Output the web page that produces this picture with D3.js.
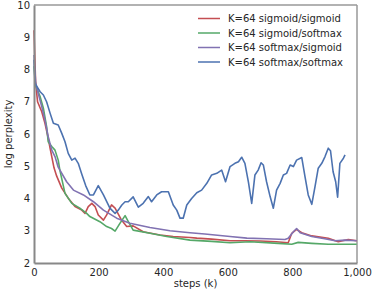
<!DOCTYPE html>
<html>
<head>
<meta charset="utf-8">
<script src="https://cdn.jsdelivr.net/npm/d3@7"></script>
<style>
  body { margin: 0; background: #fff; }
  text { font-family: "DejaVu Sans", sans-serif; fill: #262626; }
</style>
</head>
<body>
<div class="chart"></div>
<script>
// values
var redSteps = [0, 5, 11, 24, 34, 44, 50, 55, 62, 70, 86, 106, 127, 148, 158, 168, 179, 189, 199, 215, 225, 240, 251, 271, 287, 307, 338, 390, 431, 483, 504, 550, 607, 653, 700, 750, 787, 798, 813, 829, 860, 911, 942, 973, 999];
var redVals = [9.22, 7.6, 7.0, 6.69, 6.33, 5.87, 5.55, 5.3, 4.95, 4.7, 4.32, 4.01, 3.75, 3.64, 3.54, 3.75, 3.85, 3.75, 3.49, 3.33, 3.49, 3.80, 3.70, 3.33, 3.13, 3.15, 2.97, 2.87, 2.82, 2.79, 2.77, 2.74, 2.69, 2.69, 2.68, 2.66, 2.63, 2.92, 3.04, 2.94, 2.84, 2.77, 2.66, 2.73, 2.69];

var greenSteps = [0, 5, 19, 29, 39, 44, 55, 65, 75, 80, 96, 117, 142, 163, 173, 204, 225, 240, 251, 266, 282, 292, 307, 359, 411, 483, 550, 607, 669, 756, 798, 818, 860, 911, 999];
var greenVals = [8.1, 7.5, 7.16, 6.80, 6.23, 5.76, 5.61, 5.50, 5.19, 4.88, 4.16, 3.85, 3.70, 3.54, 3.44, 3.28, 3.13, 3.07, 2.99, 3.23, 3.47, 3.28, 3.02, 2.92, 2.82, 2.71, 2.67, 2.63, 2.66, 2.61, 2.58, 2.64, 2.61, 2.58, 2.58];

var purpleSteps = [0, 5, 13, 24, 34, 44, 55, 65, 75, 101, 122, 153, 184, 215, 256, 297, 359, 421, 483, 529, 607, 659, 720, 777, 787, 803, 813, 824, 860, 900, 932, 963, 999];
var purpleVals = [8.45, 7.6, 7.26, 6.85, 6.43, 5.92, 5.5, 5.30, 4.97, 4.52, 4.26, 4.11, 3.90, 3.64, 3.39, 3.23, 3.10, 3.0, 2.94, 2.90, 2.82, 2.77, 2.75, 2.73, 2.77, 2.97, 3.07, 2.94, 2.82, 2.75, 2.69, 2.71, 2.69];

var blueSteps = [0, 3, 19, 29, 39, 50, 60, 75, 86, 96, 106, 117, 127, 137, 148, 160, 173, 184, 199, 215, 235, 251, 261, 272, 282, 292, 307, 323, 338, 354, 364, 380, 395, 416, 431, 442, 452, 462, 473, 488, 504, 519, 535, 550, 566, 581, 593, 607, 622, 633, 643, 653, 664, 674, 684, 694, 703, 710, 720, 731, 741, 751, 762, 772, 782, 793, 803, 813, 829, 839, 849, 860, 870, 880, 891, 901, 911, 918, 926, 934, 940, 947, 958, 963];
var blueVals = [8.3, 7.57, 7.31, 7.21, 7.0, 6.64, 6.33, 6.28, 6.02, 5.76, 5.40, 5.19, 5.25, 5.09, 4.75, 4.4, 4.11, 4.11, 4.40, 4.11, 3.70, 3.54, 3.64, 3.8, 3.90, 3.90, 4.05, 3.73, 3.85, 4.06, 3.90, 4.11, 4.21, 4.21, 3.80, 3.64, 3.39, 3.39, 3.80, 4.0, 4.18, 4.26, 4.47, 4.73, 4.78, 4.88, 4.52, 4.99, 5.09, 5.14, 5.28, 5.09, 4.5, 3.85, 4.73, 4.88, 5.11, 5.04, 4.52, 4.06, 3.70, 4.26, 4.47, 4.73, 4.78, 5.04, 4.99, 5.19, 5.27, 4.68, 4.11, 3.82, 4.37, 4.94, 5.09, 5.30, 5.56, 5.48, 4.83, 4.52, 4.04, 5.09, 5.25, 5.35];

var seriesNames = ["K=64 sigmoid/sigmoid", "K=64 sigmoid/softmax", "K=64 softmax/sigmoid", "K=64 softmax/softmax"];
var seriesColors = ["#c44e52", "#55a868", "#8172b2", "#4c72b0"];
var xTicks = [0, 200, 400, 600, 800, 1000];
var yTicks = [2, 3, 4, 5, 6, 7, 8, 9, 10];

var svgWidth = 375;
var svgHeight = 290;

var margin = {
    top: 5,
    right: 18,
    bottom: 27,
    left: 34
};

var width = svgWidth - margin.left - margin.right;
var height = svgHeight - margin.top - margin.bottom;

var svg = d3.select(".chart")
    .append("svg")
    .attr("width", svgWidth)
    .attr("height", svgHeight);

var chartGroup = svg.append("g")
    .attr("transform", `translate(${margin.left}, ${margin.top})`);

var xScale = d3.scaleLinear().domain([0, 1000]).range([0, width]);
var yScale = d3.scaleLinear().domain([2, 10]).range([height, 0]);

// frame (top/right lighter)
chartGroup.append("line")
    .attr("x1", 0).attr("x2", width).attr("y1", 0).attr("y2", 0)
    .attr("stroke", "#999").attr("stroke-width", 1.5);
chartGroup.append("line")
    .attr("x1", width).attr("x2", width).attr("y1", 0).attr("y2", height)
    .attr("stroke", "#999").attr("stroke-width", 1.5);

var series = [
    {steps: redSteps, vals: redVals},
    {steps: greenSteps, vals: greenVals},
    {steps: purpleSteps, vals: purpleVals},
    {steps: blueSteps, vals: blueVals}
];

var line = d3.line()
    .x(d => xScale(d[0]))
    .y(d => yScale(d[1]));

series.forEach(function(s, i) {
    var pts = s.steps.map((k, j) => [k, s.vals[j]]);
    chartGroup.append("path")
        .datum(pts)
        .attr("fill", "none")
        .attr("stroke", seriesColors[i])
        .attr("stroke-width", 1.6)
        .attr("stroke-linejoin", "round")
        .attr("d", line);
});

// axes
var bottomAxis = d3.axisBottom(xScale).tickValues(xTicks).tickSize(0).tickPadding(6);
var leftAxis = d3.axisLeft(yScale).tickValues(yTicks).tickSize(0).tickPadding(4);

var xg = chartGroup.append("g")
    .attr("transform", `translate(0, ${height})`)
    .call(bottomAxis);
var yg = chartGroup.append("g")
    .call(leftAxis);

[xg, yg].forEach(function(g) {
    g.select(".domain").attr("stroke", "#888").attr("stroke-width", 2);
    g.selectAll("text").style("font-size", "10px").style("font-family", "DejaVu Sans, sans-serif").attr("fill", "#262626");
});

// axis titles
chartGroup.append("text")
    .attr("transform", "rotate(-90)")
    .attr("x", -height / 2)
    .attr("y", -margin.left + 12)
    .attr("text-anchor", "middle")
    .style("font-size", "10px")
    .text("log perplexity");

chartGroup.append("text")
    .attr("x", width / 2)
    .attr("y", height + 24)
    .attr("text-anchor", "middle")
    .style("font-size", "10px")
    .text("steps (k)");

// legend
var legend = svg.append("g");
seriesNames.forEach(function(name, i) {
    var y = 18.5 + i * 14.5;
    legend.append("line")
        .attr("x1", 198).attr("x2", 220)
        .attr("y1", y).attr("y2", y)
        .attr("stroke", seriesColors[i])
        .attr("stroke-width", 1.5);
    legend.append("text")
        .attr("x", 228)
        .attr("y", y)
        .attr("dy", "0.35em")
        .style("font-size", "10px")
        .text(name);
});
</script>
</body>
</html>
